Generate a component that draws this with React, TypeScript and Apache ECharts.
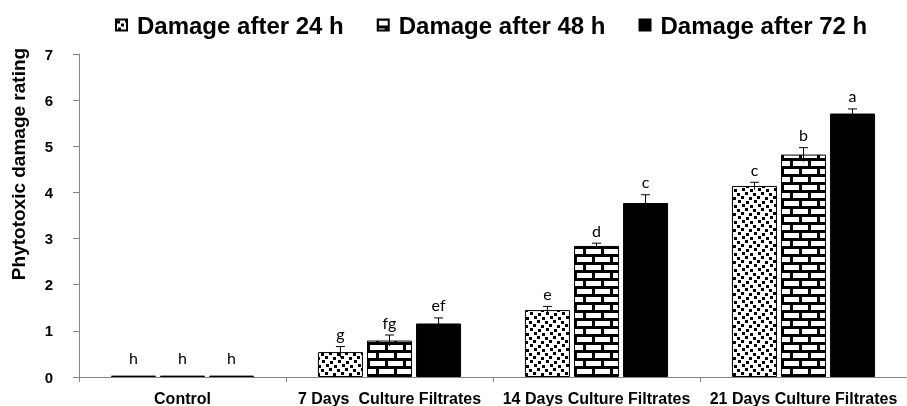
import React, { useEffect, useRef } from "react";
import * as echarts from "echarts";

const categories = [
  "Control",
  "7 Days  Culture Filtrates",
  "14 Days Culture Filtrates",
  "21 Days Culture Filtrates",
];
const seriesNames = ["Damage after 24 h", "Damage after 48 h", "Damage after 72 h"];
const values24 = [0.03, 0.54, 1.45, 4.14];
const values48 = [0.03, 0.79, 2.84, 4.82];
const values72 = [0.03, 1.16, 3.77, 5.71];
const errors24 = [0, 0.12, 0.08, 0.08];
const errors48 = [0, 0.12, 0.06, 0.15];
const errors72 = [0, 0.12, 0.18, 0.1];
const letters24 = ["h", "g", "e", "c"];
const letters48 = ["h", "fg", "d", "b"];
const letters72 = ["h", "ef", "c", "a"];
const yTicks = [0, 1, 2, 3, 4, 5, 6, 7];

const FONT = "'Liberation Sans', Arial, Helvetica, sans-serif";

function dotPattern() {
  const c = document.createElement("canvas");
  c.width = 16;
  c.height = 16;
  const g = c.getContext("2d")!;
  g.fillStyle = "#ffffff";
  g.fillRect(0, 0, 16, 16);
  g.fillStyle = "#000000";
  const dots = [
    [1, 1], [9, 0], [5, 4], [13, 5], [2, 8], [10, 9], [6, 12], [14, 13],
  ];
  for (const [x, y] of dots) {
    g.fillRect(x, y, 3, 3);
    if (x + 3 > 16) g.fillRect(x - 16, y, 3, 3);
  }
  return { image: c.toDataURL(), repeat: "repeat", imageWidth: 16, imageHeight: 16 } as any;
}

function brickPattern() {
  const c = document.createElement("canvas");
  c.width = 18;
  c.height = 16;
  const g = c.getContext("2d")!;
  g.fillStyle = "#000000";
  g.fillRect(0, 0, 18, 16);
  g.fillStyle = "#ffffff";
  g.fillRect(1, 1, 15, 5);
  g.fillRect(10, 9, 8, 5);
  g.fillRect(0, 9, 7, 5);
  return { image: c.toDataURL(), repeat: "repeat", imageWidth: 18, imageHeight: 16 } as any;
}

export default function App() {
  const ref = useRef<HTMLDivElement>(null);

  useEffect(() => {
    if (!ref.current) return;
    const chart = echarts.init(ref.current, undefined, { renderer: "svg" });
    const fills = [dotPattern(), brickPattern(), "#000000"];
    const vals = [values24, values48, values72];
    const errs = [errors24, errors48, errors72];
    const lets = [letters24, letters48, letters72];
    const step = 45 * 1.09;

    const barSeries = seriesNames.map((name, k) => ({
      name,
      type: "bar",
      data: vals[k],
      barWidth: 45,
      barGap: "9%",
      itemStyle: { color: fills[k], borderColor: "#000", borderWidth: 1 },
      z: 2,
    }));

    const errSeries = seriesNames.map((name, k) => ({
      type: "custom",
      name: name + " error",
      z: 5,
      silent: true,
      data: vals[k].map((v, i) => [i, v, errs[k][i]]),
      encode: { x: 0, y: 1 },
      renderItem: (params: any, api: any) => {
        const cat = api.value(0);
        const v = api.value(1);
        const e = api.value(2);
        const top = api.coord([cat, v + e]);
        const bot = api.coord([cat, v - e]);
        const x = top[0] + (k - 1) * step;
        const children: any[] = [];
        if (e > 0) {
          children.push({
            type: "line",
            shape: { x1: x, y1: bot[1], x2: x, y2: top[1] },
            style: { stroke: "#000", lineWidth: 1 },
          });
          children.push({
            type: "line",
            shape: { x1: x - 4.5, y1: top[1], x2: x + 4.5, y2: top[1] },
            style: { stroke: "#000", lineWidth: 1 },
          });
        }
        children.push({
          type: "text",
          x,
          y: top[1] - (e > 0 ? 5 : 10),
          style: {
            text: lets[k][params.dataIndex],
            fill: "#000",
            font: "16px Lato, 'Open Sans', sans-serif",
            textAlign: "center",
            textVerticalAlign: "bottom",
          },
        });
        return { type: "group", children };
      },
    }));

    chart.setOption({
      animation: false,
      legend: {
        data: seriesNames,
        left: 110,
        top: 8,
        itemWidth: 11,
        itemHeight: 11,
        itemGap: 33,
        icon: "rect",
        textStyle: {
          fontFamily: FONT,
          fontWeight: "bold",
          fontSize: 24,
          color: "#000",
          padding: [0, 0, 0, 5],
        },
      },
      grid: { left: 79, top: 54, bottom: 29, width: 838 },
      xAxis: {
        type: "category",
        data: categories,
        axisLine: { lineStyle: { color: "#868686", width: 1 } },
        axisTick: { show: true, length: 5, lineStyle: { color: "#868686" } },
        axisLabel: {
          interval: 0,
          margin: 13,
          fontFamily: FONT,
          fontWeight: "bold",
          fontSize: 16,
          color: "#000",
        },
      },
      yAxis: {
        type: "value",
        min: yTicks[0],
        max: yTicks[yTicks.length - 1],
        interval: 1,
        splitLine: { show: false },
        axisLine: { show: true, lineStyle: { color: "#868686", width: 1 } },
        axisTick: { show: true, length: 6, lineStyle: { color: "#868686" } },
        axisLabel: {
          margin: 26,
          fontFamily: FONT,
          fontWeight: "bold",
          fontSize: 15,
          color: "#000",
        },
      },
      graphic: [
        {
          type: "text",
          x: 18,
          y: 164,
          rotation: Math.PI / 2,
          style: {
            text: "Phytotoxic damage rating",
            font: `bold 19px ${FONT}`,
            fill: "#000",
            textAlign: "center",
            textVerticalAlign: "middle",
          },
        },
      ],
      series: [...barSeries, ...errSeries],
    } as any);

    return () => chart.dispose();
  }, []);

  return (
    <div
      ref={ref}
      style={{ position: "fixed", left: 0, top: 0, width: 907, height: 406 }}
    />
  );
}
